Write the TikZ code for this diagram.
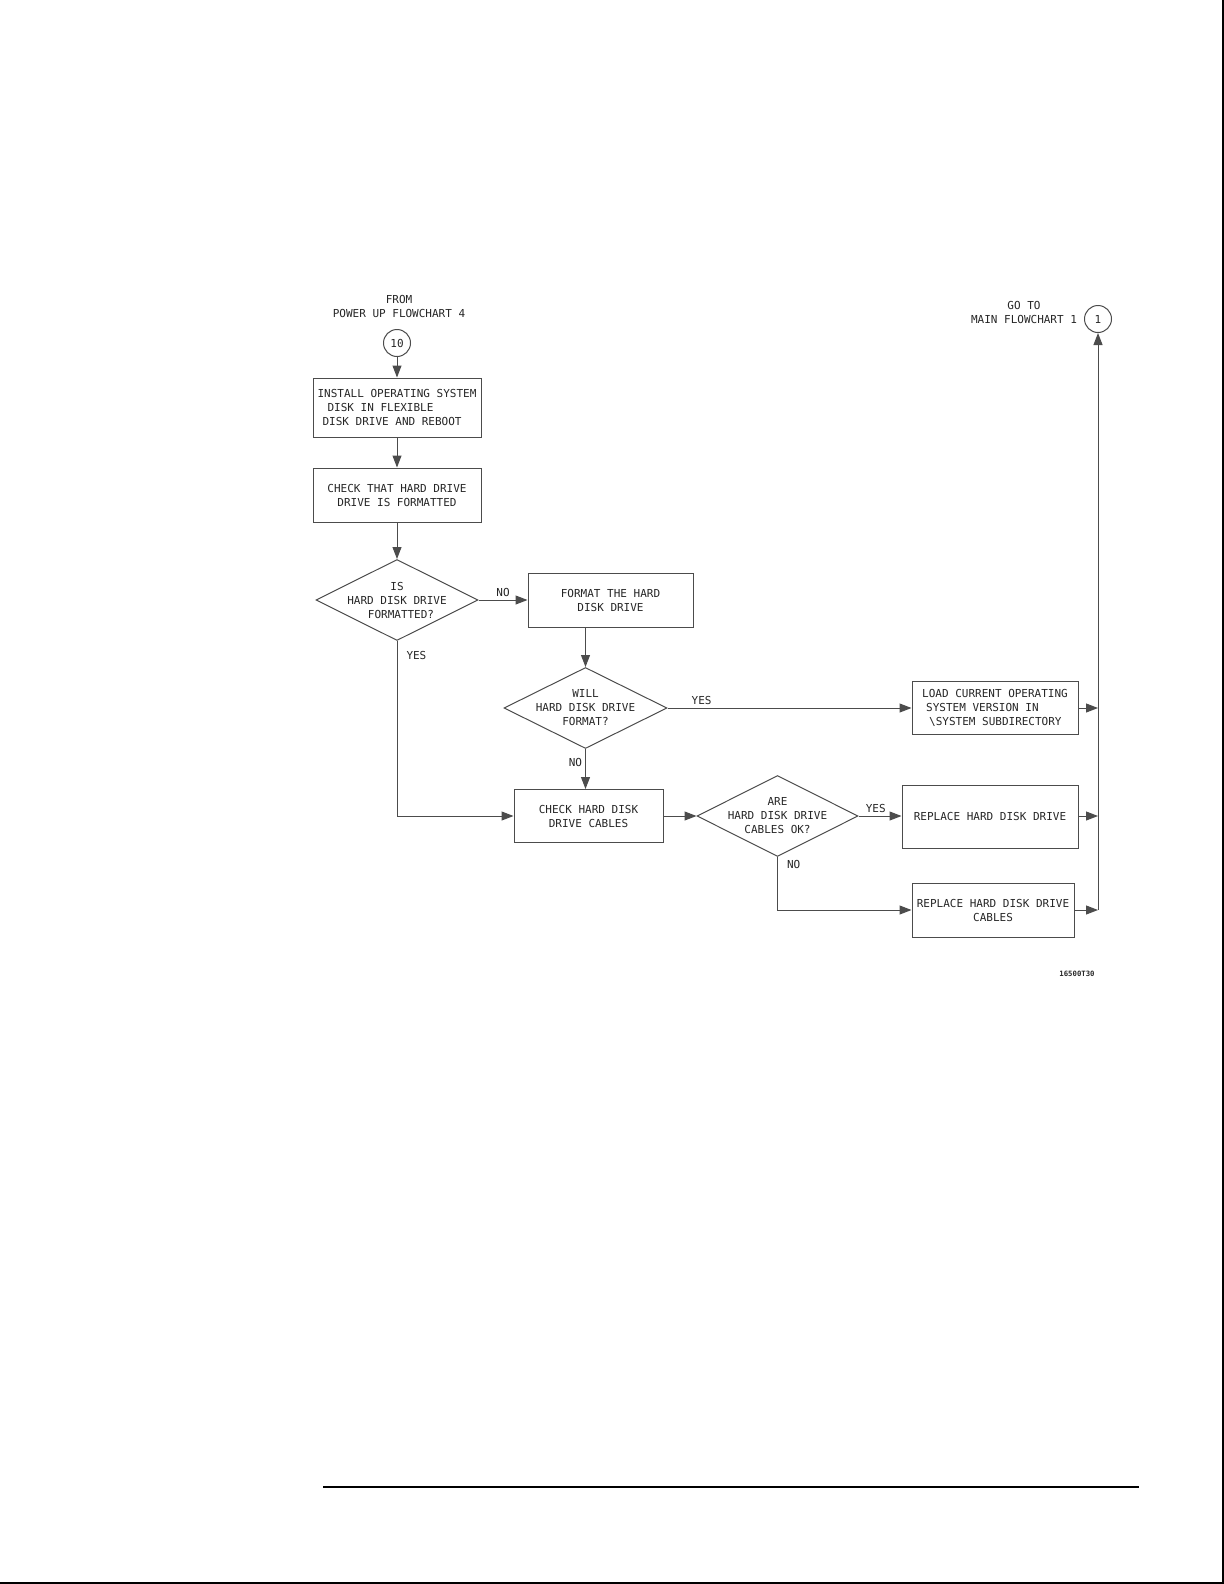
\documentclass[tikz,border=0pt]{standalone}
\usepackage{fontspec}
\setmonofont{DejaVu Sans Mono}
\usetikzlibrary{arrows.meta,shapes.geometric}

\begin{document}
\begin{tikzpicture}[x=0.5pt, y=-0.5pt, >={Triangle[length=6pt,width=4.5pt]},
  every node/.style={font=\ttfamily\fontsize{5.5}{7}\selectfont, text=black!85},
  flow/.style={draw=black!70, line width=0.5pt},
  box/.style={flow, rectangle, inner sep=0pt, align=center},
  decision/.style={flow, diamond, aspect=2, inner sep=-2pt, align=center},
  conn/.style={flow, circle, inner sep=0pt, minimum size=13.5pt},
  lbl/.style={inner sep=1.5pt}]
  \useasboundingbox (0,0) rectangle (1224,1584);
  % page frame
  \draw[line width=1pt] (0,1582.5) -- (1222.5,1582.5) -- (1222.5,0);
  \draw[line width=0.8pt] (323,1487) -- (1139,1487);

  % left column
  \node[align=center] (fromtxt) at (399,306) {FROM\\POWER UP FLOWCHART 4};
  \node[conn] (src) at (397,343) {10};
  \node[box, align=left, minimum width=84pt, minimum height=29.5pt] (install) at (397,407.5)
        {INSTALL OPERATING SYSTEM\\\hspace*{5pt}DISK IN FLEXIBLE\\\hspace*{2.5pt}DISK DRIVE AND REBOOT};
  \node[box, minimum width=84pt, minimum height=27pt] (chk) at (397,495)
        {CHECK THAT HARD DRIVE\\DRIVE IS FORMATTED};
  \node[decision, minimum width=81pt, minimum height=40.5pt] (isfmt) at (397,600)
        {IS\\HARD DISK DRIVE\\\hspace*{4pt}FORMATTED?};

  % middle column
  \node[box, minimum width=82.5pt, minimum height=27pt] (fmt) at (610.5,600)
        {FORMAT THE HARD\\DISK DRIVE};
  \node[decision, minimum width=81.5pt, minimum height=40.5pt] (willfmt) at (585.5,708)
        {WILL\\HARD DISK DRIVE\\FORMAT?};
  \node[box, minimum width=74.5pt, minimum height=26.5pt] (cables) at (588.5,816)
        {CHECK HARD DISK\\DRIVE CABLES};
  \node[decision, minimum width=80.5pt, minimum height=40.5pt] (areok) at (777.5,816)
        {ARE\\HARD DISK DRIVE\\CABLES OK?};

  % right column
  \node[box, align=left, minimum width=83pt, minimum height=26.5pt] (load) at (995,708)
        {LOAD CURRENT OPERATING\\\hspace*{2pt}SYSTEM VERSION IN\\\hspace*{3.5pt}\textbackslash SYSTEM SUBDIRECTORY};
  \node[box, minimum width=88pt, minimum height=31.5pt] (repl) at (990,816.5)
        {REPLACE HARD DISK DRIVE};
  \node[box, minimum width=81pt, minimum height=27pt] (repcab) at (993,910)
        {REPLACE HARD DISK DRIVE\\CABLES};
  \node[conn] (dest) at (1098,319) {1};
  \node[align=center] (gotxt) at (1024,312) {GO TO\\MAIN FLOWCHART 1};
  \node[font=\ttfamily\bfseries\fontsize{3.65}{4}\selectfont] (fignum) at (1077,974) {16500T30};

  % connectors
  \draw[flow,->] (src) -- (install);
  \draw[flow,->] (install) -- (chk);
  \draw[flow,->] (chk) -- (isfmt);
  \draw[flow,->] (isfmt) -- node[lbl,above]{NO} (fmt);
  \draw[flow,->] (isfmt.south) |- node[lbl,right,pos=0.04,xshift=3pt]{YES} (cables.west);
  \draw[flow,->] (fmt.south -| willfmt.north) -- (willfmt.north);
  \draw[flow,->] (willfmt) -- node[lbl,above,pos=0.14]{YES} (load);
  \draw[flow,->] (willfmt) -- node[lbl,left,pos=0.34]{NO} (cables.north -| willfmt.south);
  \draw[flow,->] (cables) -- (areok);
  \draw[flow,->] (areok.east) -- node[lbl,above,pos=0.4]{YES} (areok.east -| repl.west);
  \draw[flow,->] (areok.south) |- node[lbl,right,pos=0.07,xshift=3pt]{NO} (repcab.west);
  \draw[flow,->] (load.east) -- (load.east -| dest.south);
  \draw[flow,->] (repl.east |- areok.east) -- (areok.east -| dest.south);
  \draw[flow,->] (repcab.east) -- (repcab.east -| dest.south);
  \draw[flow,->] (repcab.east -| dest.south) -- (dest.south);
\end{tikzpicture}
\end{document}
